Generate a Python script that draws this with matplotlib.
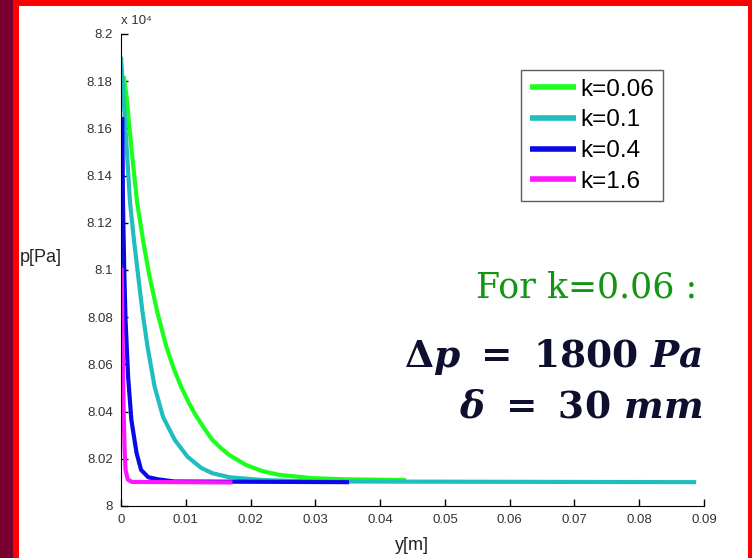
import matplotlib
matplotlib.use('Agg')
from matplotlib import pyplot as plt
from matplotlib.patches import Rectangle

# values, pressure in Pa
y_k006 = [0.0004, 0.0008, 0.0016, 0.0025, 0.0034, 0.0043, 0.0056, 0.0070, 0.0081, 0.0093,
          0.0104, 0.0115, 0.0128, 0.0141, 0.0154, 0.0167, 0.0193, 0.0218, 0.0244, 0.0295,
          0.0347, 0.0440]
p_k006 = [81822, 81750, 81517, 81284, 81127, 80987, 80822, 80675, 80585, 80504,
          80441, 80386, 80331, 80280, 80246, 80216, 80174, 80148, 80132, 80118,
          80113, 80110]

y_k01 = [0.0, 0.0007, 0.0014, 0.0020, 0.0026, 0.0033, 0.0041, 0.0052, 0.0065, 0.0083,
         0.0103, 0.0124, 0.0141, 0.0167, 0.0218, 0.0298, 0.0888]
p_k01 = [81903, 81593, 81284, 81127, 80987, 80826, 80674, 80504, 80377, 80280,
         80208, 80161, 80139, 80122, 80110, 80104, 80101]

y_k04 = [0.0002, 0.0003, 0.0005, 0.0007, 0.0011, 0.0016, 0.0024, 0.0031, 0.0042, 0.0057,
         0.0082, 0.0352]
p_k04 = [81648, 81297, 81000, 80788, 80547, 80365, 80225, 80153, 80122, 80113,
         80104, 80101]

y_k16 = [0.0001, 0.00025, 0.0004, 0.00056, 0.0007, 0.00105, 0.0017, 0.0172]
p_k16 = [81009, 80703, 80407, 80237, 80153, 80112, 80102, 80100]

labels = ['k=0.06', 'k=0.1', 'k=0.4', 'k=1.6']
colors = ['#1cff1c', '#1fbdbd', '#0a0ae6', '#ff14ff']

x_ticks = [0, 0.01, 0.02, 0.03, 0.04, 0.05, 0.06, 0.07, 0.08, 0.09]
y_ticks = [80000, 80200, 80400, 80600, 80800, 81000, 81200, 81400, 81600, 81800, 82000]

plt.rcParams['font.family'] = ['Liberation Sans', 'DejaVu Sans']
plt.rcParams['mathtext.fontset'] = 'custom'
plt.rcParams['mathtext.rm'] = 'DejaVu Serif:bold'
plt.rcParams['mathtext.bf'] = 'DejaVu Serif:bold'
plt.rcParams['mathtext.it'] = 'DejaVu Serif:italic:bold'

fig = plt.figure(figsize=(7.52, 5.58), dpi=100)
fig.patch.set_facecolor('white')
ax = fig.add_axes([121 / 752, 1 - 506 / 558, 583 / 752, 472 / 558])

series = [(y_k006, p_k006), (y_k01, p_k01), (y_k04, p_k04), (y_k16, p_k16)]
for (xs, ps), lab, col in zip(series, labels, colors):
    ax.plot(xs, ps, color=col, lw=3, label=lab, solid_capstyle='butt', solid_joinstyle='round')

ax.set_xlim(0, 0.09)
ax.set_ylim(80000, 82000)
ax.set_xticks(x_ticks)
ax.set_xticklabels(['%g' % v for v in x_ticks])
ax.set_yticks(y_ticks)
ax.set_yticklabels(['%g' % (v / 1e4) for v in y_ticks])
ax.tick_params(direction='in', length=5, width=1, labelsize=9.5, labelcolor='#333333', pad=6)
ax.spines['top'].set_visible(False)
ax.spines['right'].set_visible(False)
ax.patch.set_alpha(0)

leg = ax.legend(loc='upper right', bbox_to_anchor=(663 / 752, 1 - 70 / 558),
                bbox_transform=fig.transFigure, fontsize=17.5, frameon=True, fancybox=False,
                handlelength=1.9, handletextpad=0.2, labelspacing=0.36, borderpad=0.35,
                borderaxespad=0)
leg.get_frame().set_edgecolor('#333333')
leg.get_frame().set_linewidth(1)
for line in leg.get_lines():
    line.set_linewidth(4)

fig.text(121 / 752, 1 - 21 / 558, 'x 10\u2074', fontsize=9.5, color='#333333', ha='left', va='center')
fig.text(20 / 752, 1 - 258 / 558, 'p[Pa]', fontsize=13, color='#222222', ha='left', va='center')
fig.text(412 / 752, 1 - 545 / 558, 'y[m]', fontsize=13, color='#222222', ha='center', va='center')

fig.text(697 / 752, 1 - 297 / 558, 'For k=0.06 :', fontsize=25, color='#149414',
         family='DejaVu Serif', ha='right', va='baseline')
fig.text(702 / 752, 1 - 367 / 558, r'$\Delta p\ =\ 1800\ Pa$', fontsize=27, color='#0e0e2e',
         ha='right', va='baseline')
fig.text(702 / 752, 1 - 418 / 558, r'$\delta\ =\ 30\ mm$', fontsize=27, color='#0e0e2e',
         ha='right', va='baseline')

# slide frame
fig.patches.append(Rectangle((0, 0), 13 / 752, 1, transform=fig.transFigure,
                             facecolor='#78002f', edgecolor='none', zorder=10))
fig.patches.append(Rectangle((13 / 752, 0), 6 / 752, 1, transform=fig.transFigure,
                             facecolor='#ff0000', edgecolor='none', zorder=10))
fig.patches.append(Rectangle((13 / 752, 1 - 6 / 558), 1, 6 / 558, transform=fig.transFigure,
                             facecolor='#ff0000', edgecolor='none', zorder=10))
fig.patches.append(Rectangle((748 / 752, 0), 4 / 752, 1, transform=fig.transFigure,
                             facecolor='#ff0000', edgecolor='none', zorder=10))

plt.savefig('out.png', dpi=100)
